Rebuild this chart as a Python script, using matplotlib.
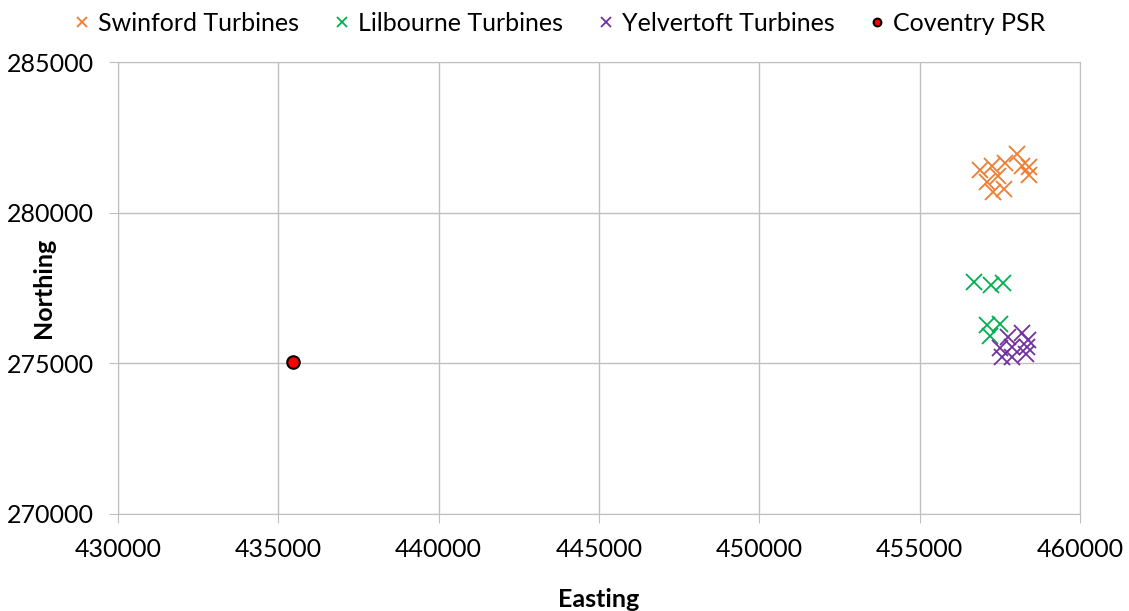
import matplotlib
matplotlib.use("Agg")
import matplotlib.pyplot as plt

swinford_e = [456879, 457243, 457658, 458042, 458179, 458416, 458406, 457106, 457449, 457275, 457627]
swinford_n = [281416, 281548, 281658, 281947, 281548, 281525, 281250, 281027, 281216, 280695, 280775]
lilbourne_e = [456692, 457213, 457606, 457106, 457502, 457190]
lilbourne_n = [277708, 277599, 277675, 276271, 276304, 275906]
yelvertoft_e = [457761, 458179, 458385, 457502, 457867, 458335, 457555, 457867, 458313]
yelvertoft_n = [275883, 275996, 275773, 275498, 275531, 275531, 275219, 275219, 275309]
coventry_e = [435457]
coventry_n = [275043]

xticks = [430000, 435000, 440000, 445000, 450000, 455000, 460000]
yticks = [270000, 275000, 280000, 285000]

plt.rcParams['font.family'] = ['Lato', 'DejaVu Sans']

fig = plt.figure(figsize=(11.29, 6.11), dpi=100)
ax = fig.add_axes([0.1045, 0.1588, 0.8521, 0.7397])

ms = 11
ax.plot(swinford_e, swinford_n, 'x', color='#ED7D31', ms=ms, mew=1.3, label='Swinford Turbines', ls='none')
ax.plot(lilbourne_e, lilbourne_n, 'x', color='#00B050', ms=ms, mew=1.3, label='Lilbourne Turbines', ls='none')
ax.plot(yelvertoft_e, yelvertoft_n, 'x', color='#7030A0', ms=ms, mew=1.3, label='Yelvertoft Turbines', ls='none')
ax.plot(coventry_e, coventry_n, 'o', color='#FF0000', mec='black', mew=1.5, ms=9, label='Coventry PSR', ls='none')

ax.set_xlim(430000, 460000)
ax.set_ylim(270000, 285000)
ax.set_xticks(xticks)
ax.set_yticks(yticks)
ax.set_xticklabels([str(v) for v in xticks], fontsize=18)
ax.set_yticklabels([str(v) for v in yticks], fontsize=18)
ax.grid(True, color='#BFBFBF', lw=1)
ax.set_axisbelow(True)
for s in ax.spines.values():
    s.set_color('#BFBFBF')
ax.tick_params(axis='both', length=6.5, color='#BFBFBF', pad=11)
ax.set_xlabel('Easting', fontsize=18, fontweight='bold')
ax.set_ylabel('Northing', fontsize=18, fontweight='bold')
ax.xaxis.set_label_coords(0.5, -0.163)
ax.yaxis.set_label_coords(-0.0655, 0.5)

leg = fig.legend(loc='center', bbox_to_anchor=(0.495, 0.962), ncol=4, frameon=False,
                 fontsize=18, handlelength=0.8, handletextpad=0.25, columnspacing=1.3,
                 markerscale=0.62)

fig.savefig('out.png', dpi=100)
